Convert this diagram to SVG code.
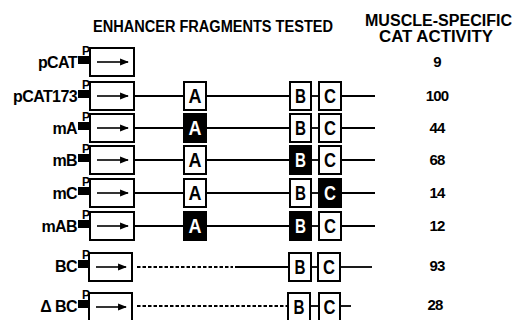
<svg xmlns="http://www.w3.org/2000/svg" width="517" height="320" viewBox="0 0 517 320">
<style>
text{font-family:"Liberation Sans",Arial,sans-serif;fill:#000}
.hd{font-size:16px;font-weight:bold}
.lb{font-size:16px;font-weight:bold;letter-spacing:-0.6px;text-anchor:end}
.num{font-size:15px;font-weight:bold;text-anchor:middle;letter-spacing:-0.8px}
.frag{font-size:20px;font-weight:bold;text-anchor:middle}
.inv{fill:#fff}
.pp{font-size:12px;font-weight:bold}
.box{fill:#fff;stroke:#000;stroke-width:2}
.fbox{fill:#000;stroke:#000;stroke-width:2}
.ln{stroke:#000;stroke-width:1.8;fill:none}
.dash{stroke:#000;stroke-width:1.8;fill:none;stroke-dasharray:3.5 2}
.arr{stroke:#000;stroke-width:1.6;marker-end:url(#ah)}
</style>
<defs>
<marker id="ah" viewBox="0 0 10 10" refX="9" refY="5" markerWidth="5.5" markerHeight="5.5" orient="auto" markerUnits="strokeWidth">
<path d="M0,1 L10,5 L0,9 z" fill="#000"/>
</marker>
<g id="prom">
<rect x="78" y="-6" width="11" height="8" fill="#000"/>
<text class="pp" x="82" y="-7">P</text>
</g>
</defs>
<g id="headers">
<text class="hd" x="93" y="32" textLength="240" lengthAdjust="spacingAndGlyphs">ENHANCER FRAGMENTS TESTED</text>
<text class="hd" x="365" y="26" textLength="147" lengthAdjust="spacingAndGlyphs">MUSCLE-SPECIFIC</text>
<text class="hd" x="379" y="42" textLength="114" lengthAdjust="spacingAndGlyphs">CAT ACTIVITY</text>
</g>
<g id="connectors">
<line class="ln" x1="134" y1="96" x2="184" y2="96"/><line class="ln" x1="206" y1="96" x2="290" y2="96"/><line class="ln" x1="311" y1="96" x2="319" y2="96"/><line class="ln" x1="341" y1="96" x2="375" y2="96"/>
<line class="ln" x1="134" y1="128" x2="184" y2="128"/><line class="ln" x1="206" y1="128" x2="290" y2="128"/><line class="ln" x1="311" y1="128" x2="319" y2="128"/><line class="ln" x1="341" y1="128" x2="375" y2="128"/>
<line class="ln" x1="134" y1="160" x2="184" y2="160"/><line class="ln" x1="206" y1="160" x2="290" y2="160"/><line class="ln" x1="311" y1="160" x2="319" y2="160"/><line class="ln" x1="341" y1="160" x2="375" y2="160"/>
<line class="ln" x1="134" y1="193" x2="184" y2="193"/><line class="ln" x1="206" y1="193" x2="290" y2="193"/><line class="ln" x1="311" y1="193" x2="319" y2="193"/><line class="ln" x1="341" y1="193" x2="375" y2="193"/>
<line class="ln" x1="134" y1="226" x2="184" y2="226"/><line class="ln" x1="206" y1="226" x2="290" y2="226"/><line class="ln" x1="311" y1="226" x2="319" y2="226"/><line class="ln" x1="341" y1="226" x2="375" y2="226"/>
<line class="dash" x1="137" y1="267" x2="233" y2="267"/><line class="ln" x1="235" y1="267" x2="289" y2="267"/><line class="ln" x1="311" y1="267" x2="318" y2="267"/><line class="ln" x1="340" y1="267" x2="372" y2="267"/>
<line class="dash" x1="137" y1="306" x2="287" y2="306"/><line class="ln" x1="310" y1="306" x2="319" y2="306"/><line class="ln" x1="340" y1="306" x2="351" y2="306"/>
</g>
<g id="pCAT">
<text class="lb" x="77" y="68">pCAT</text>
<use href="#prom" transform="translate(0,62)"/>
<rect class="box" x="90" y="48" width="44" height="28"/>
<line class="arr" x1="97" y1="62" x2="128" y2="62"/>
<text class="num" x="437" y="67">9</text>
</g>
<g id="pCAT173">
<text class="lb" x="77" y="102">pCAT173</text>
<use href="#prom" transform="translate(0,96)"/>
<rect class="box" x="90" y="82" width="44" height="28"/>
<line class="arr" x1="97" y1="96" x2="128" y2="96"/>
<rect class="box" x="184" y="82" width="22" height="28"/><text class="frag" x="195" y="103" textLength="13" lengthAdjust="spacingAndGlyphs">A</text>
<rect class="box" x="290" y="82" width="21" height="28"/><text class="frag" x="300.5" y="103" textLength="11" lengthAdjust="spacingAndGlyphs">B</text>
<rect class="box" x="319" y="82" width="22" height="28"/><text class="frag" x="330" y="103" textLength="12" lengthAdjust="spacingAndGlyphs">C</text>
<text class="num" x="437" y="101">100</text>
</g>
<g id="mA">
<text class="lb" x="77" y="134">mA</text>
<use href="#prom" transform="translate(0,128)"/>
<rect class="box" x="90" y="114" width="44" height="28"/>
<line class="arr" x1="97" y1="128" x2="128" y2="128"/>
<rect class="fbox" x="184" y="114" width="22" height="28"/><text class="frag inv" x="195" y="135" textLength="13" lengthAdjust="spacingAndGlyphs">A</text>
<rect class="box" x="290" y="114" width="21" height="28"/><text class="frag" x="300.5" y="135" textLength="11" lengthAdjust="spacingAndGlyphs">B</text>
<rect class="box" x="319" y="114" width="22" height="28"/><text class="frag" x="330" y="135" textLength="12" lengthAdjust="spacingAndGlyphs">C</text>
<text class="num" x="437" y="133">44</text>
</g>
<g id="mB">
<text class="lb" x="77" y="166">mB</text>
<use href="#prom" transform="translate(0,160)"/>
<rect class="box" x="90" y="146" width="44" height="28"/>
<line class="arr" x1="97" y1="160" x2="128" y2="160"/>
<rect class="box" x="184" y="146" width="22" height="28"/><text class="frag" x="195" y="167" textLength="13" lengthAdjust="spacingAndGlyphs">A</text>
<rect class="fbox" x="290" y="146" width="21" height="28"/><text class="frag inv" x="300.5" y="167" textLength="11" lengthAdjust="spacingAndGlyphs">B</text>
<rect class="box" x="319" y="146" width="22" height="28"/><text class="frag" x="330" y="167" textLength="12" lengthAdjust="spacingAndGlyphs">C</text>
<text class="num" x="437" y="165">68</text>
</g>
<g id="mC">
<text class="lb" x="77" y="199">mC</text>
<use href="#prom" transform="translate(0,193)"/>
<rect class="box" x="90" y="179" width="44" height="28"/>
<line class="arr" x1="97" y1="193" x2="128" y2="193"/>
<rect class="box" x="184" y="179" width="22" height="28"/><text class="frag" x="195" y="200" textLength="13" lengthAdjust="spacingAndGlyphs">A</text>
<rect class="box" x="290" y="179" width="21" height="28"/><text class="frag" x="300.5" y="200" textLength="11" lengthAdjust="spacingAndGlyphs">B</text>
<rect class="fbox" x="319" y="179" width="22" height="28"/><text class="frag inv" x="330" y="200" textLength="12" lengthAdjust="spacingAndGlyphs">C</text>
<text class="num" x="437" y="198">14</text>
</g>
<g id="mAB">
<text class="lb" x="77" y="232">mAB</text>
<use href="#prom" transform="translate(0,226)"/>
<rect class="box" x="90" y="212" width="44" height="28"/>
<line class="arr" x1="97" y1="226" x2="128" y2="226"/>
<rect class="fbox" x="184" y="212" width="22" height="28"/><text class="frag inv" x="195" y="233" textLength="13" lengthAdjust="spacingAndGlyphs">A</text>
<rect class="fbox" x="290" y="212" width="21" height="28"/><text class="frag inv" x="300.5" y="233" textLength="11" lengthAdjust="spacingAndGlyphs">B</text>
<rect class="box" x="319" y="212" width="22" height="28"/><text class="frag" x="330" y="233" textLength="12" lengthAdjust="spacingAndGlyphs">C</text>
<text class="num" x="437" y="231">12</text>
</g>
<g id="BC">
<text class="lb" x="77" y="272">BC</text>
<use href="#prom" transform="translate(0,266)"/>
<rect class="box" x="89" y="253" width="43" height="28"/>
<line class="arr" x1="96" y1="267" x2="126" y2="267"/>
<rect class="box" x="289" y="253" width="22" height="28"/><text class="frag" x="300" y="274" textLength="11" lengthAdjust="spacingAndGlyphs">B</text>
<rect class="box" x="318" y="253" width="22" height="28"/><text class="frag" x="329" y="274" textLength="12" lengthAdjust="spacingAndGlyphs">C</text>
<text class="num" x="437" y="271">93</text>
</g>
<g id="deltaBC">
<text class="lb" x="77" y="312">Δ BC</text>
<use href="#prom" transform="translate(0,306)"/>
<rect class="box" x="89" y="293" width="43" height="28"/>
<line class="arr" x1="96" y1="307" x2="126" y2="307"/>
<rect class="box" x="288" y="293" width="22" height="28"/><text class="frag" x="299" y="314" textLength="11" lengthAdjust="spacingAndGlyphs">B</text>
<rect class="box" x="319" y="293" width="21" height="28"/><text class="frag" x="329.5" y="314" textLength="12" lengthAdjust="spacingAndGlyphs">C</text>
<text class="num" x="435" y="310">28</text>
</g>
</svg>
